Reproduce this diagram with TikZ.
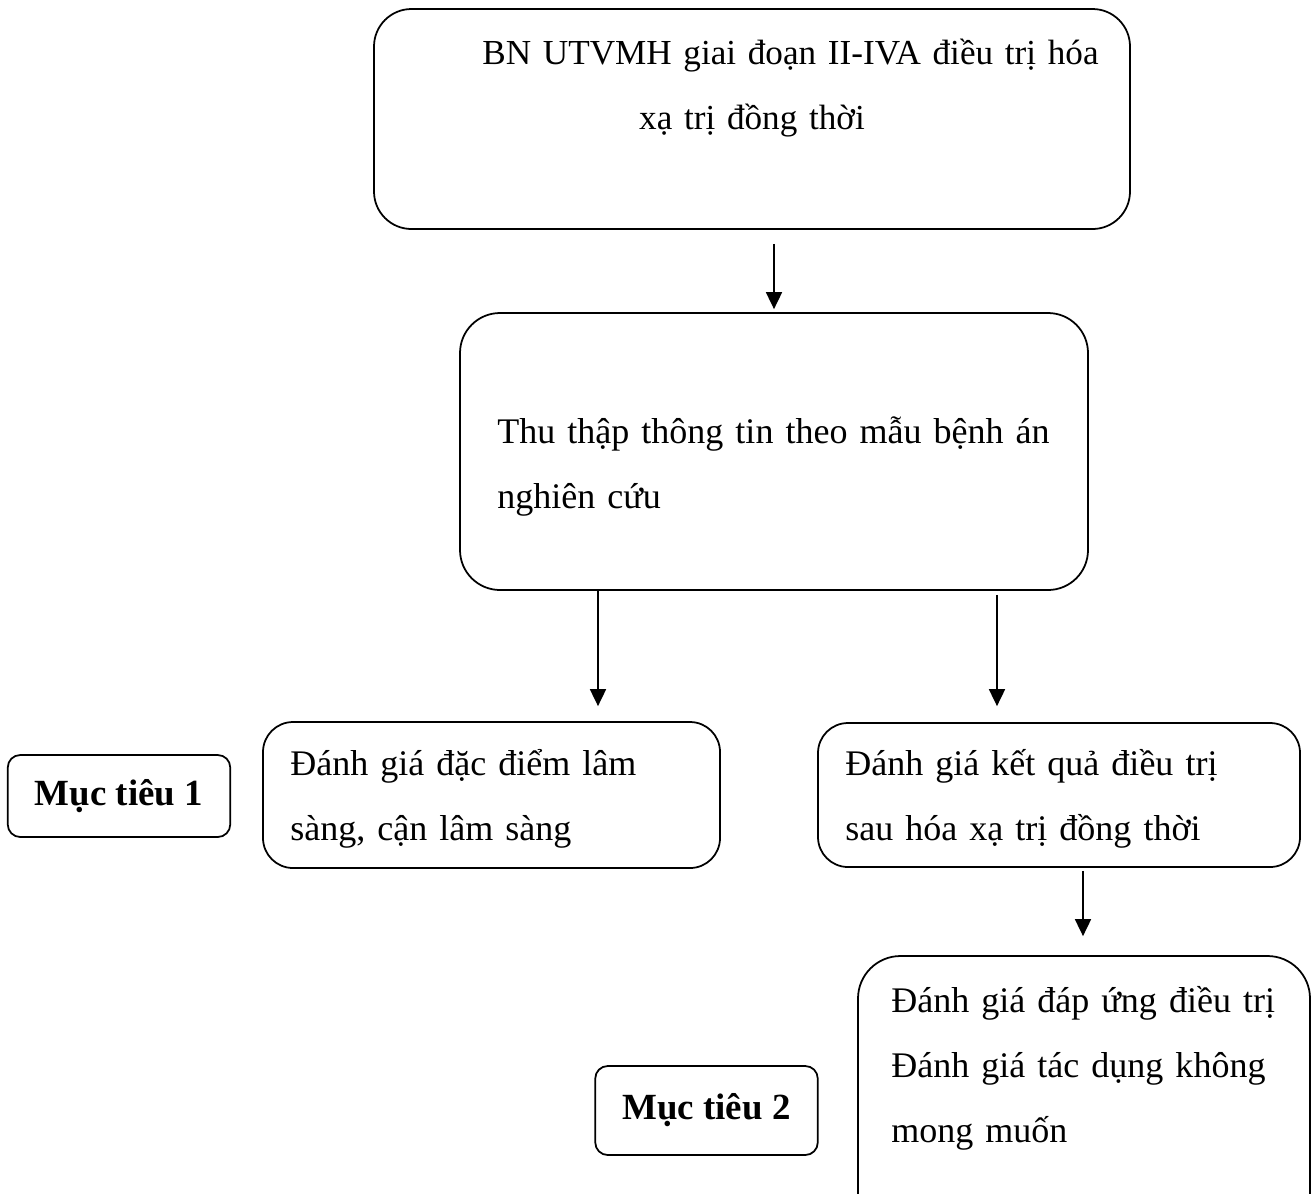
\documentclass[tikz,border=0pt]{standalone}
\usepackage{fontspec}
\setmainfont{Liberation Serif}
\usetikzlibrary{arrows.meta,positioning,calc}

\tikzset{
  box/.style={draw, line width=1pt, rounded corners=#1, inner sep=0pt},
  box/.default=0.75cm,
  txt/.style={anchor=base west, align=left, text width=#1, inner sep=0pt,
    font=\fontsize{20.5}{37}\selectfont},
  txt/.default=12cm,
  goal/.style={draw, line width=1pt, rounded corners=0.25cm, inner sep=0pt,
    minimum width=4.45cm, font=\fontsize{21}{25}\selectfont\bfseries},
  arr/.style={line width=1pt, -{Triangle[width=0.32cm,length=0.34cm]}}
}

\begin{document}
\begin{tikzpicture}
    \useasboundingbox (0,0) rectangle (26.24,-23.86);

    % Boxes
    \node[box, minimum width=15.12cm, minimum height=4.4cm] (b1) at (15.04,-2.38) {};
    \node[box=0.8cm, minimum width=12.56cm, minimum height=5.54cm] (b2) at (15.48,-9.03) {};
    \node[box=0.6cm, minimum width=9.14cm, minimum height=2.92cm] (b3) at (9.83,-15.9) {};
    \node[box=0.6cm, minimum width=9.64cm, minimum height=2.88cm] (b4) at (21.18,-15.9) {};
    \node[box=0.85cm, minimum width=9.04cm, minimum height=5.6cm] (b5) at (21.68,-21.92) {};

    % Texts
    \node[txt=15cm, anchor=base, align=center, font=\fontsize{20}{37}\selectfont] (t1) at (15.04,-1.28)
        {\hspace*{1.54cm}BN UTVMH giai đoạn II-IVA điều trị hóa\\xạ trị đồng thời};
    \node[txt] (t2) at (9.94,-8.86) {Thu thập thông tin theo mẫu bệnh án\\nghiên cứu};
    \node[txt=8.5cm] (t3) at (5.8,-15.5) {Đánh giá đặc điểm lâm\\sàng, cận lâm sàng};
    \node[txt=8.5cm] (t4) at (16.9,-15.5) {Đánh giá kết quả điều trị\\sau hóa xạ trị đồng thời};
    \node[txt=8.5cm] (t5) at (17.82,-20.24) {Đánh giá đáp ứng điều trị\\Đánh giá tác dụng không\\mong muốn};

    % Goals
    \node[goal, minimum height=1.64cm] (m1) at (2.38,-15.92) {Mục tiêu 1};
    \node[goal, minimum height=1.78cm] (m2) at (14.13,-22.21) {Mục tiêu 2};

    % Arrows
    \draw[arr, shorten <=0.28cm, shorten >=0.06cm] (b1.south -| b2.north) -- (b2.north);
    \draw[arr, shorten >=0.3cm] ([xshift=-3.52cm]b2.south) -- ([xshift=-3.52cm]b2.south |- b3.north);
    \draw[arr, shorten <=0.08cm, shorten >=0.32cm] ([xshift=4.46cm]b2.south) -- ([xshift=4.46cm]b2.south |- b4.north);
    \draw[arr, shorten <=0.06cm, shorten >=0.38cm] ([xshift=0.48cm]b4.south) -- ([xshift=0.48cm]b4.south |- b5.north);
\end{tikzpicture}
\end{document}
